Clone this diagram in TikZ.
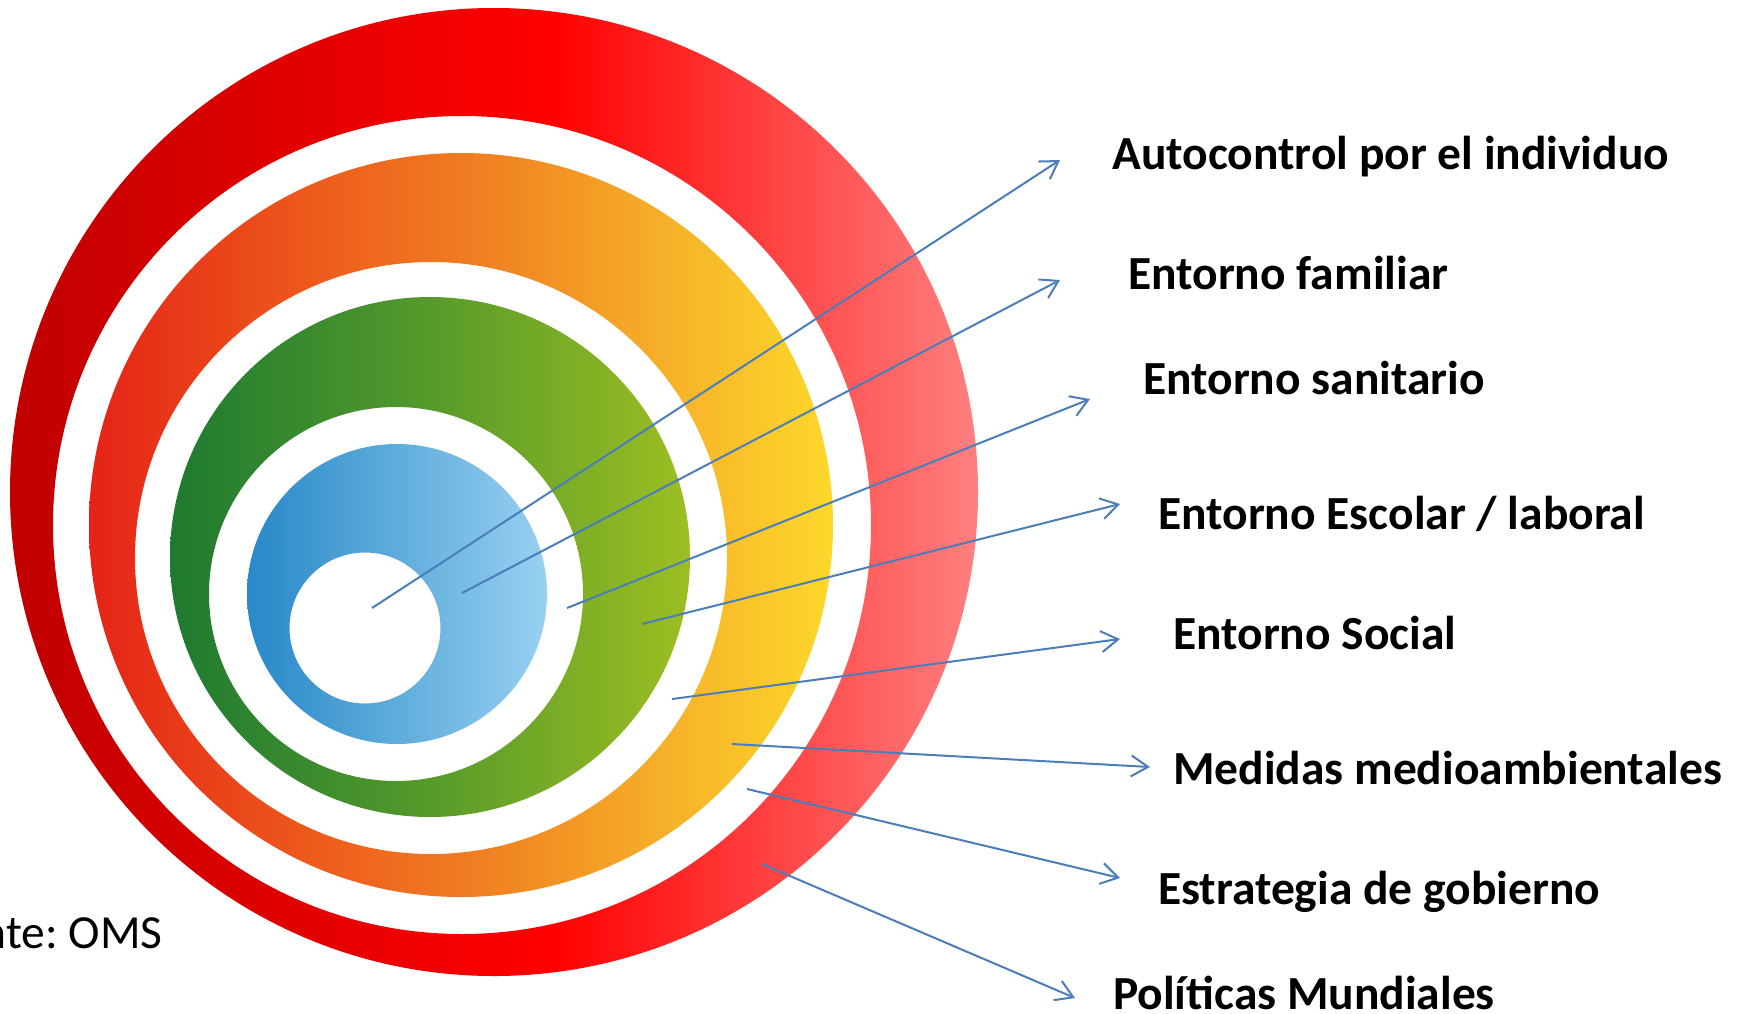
\documentclass[tikz,border=0pt]{standalone}
\usepackage{fontspec}
\setmainfont{Carlito}
\usetikzlibrary{arrows.meta}
\definecolor{rA}{RGB}{192,0,0}
\definecolor{rB}{RGB}{255,0,0}
\definecolor{rC}{RGB}{255,128,128}
\definecolor{oA}{RGB}{229,35,23}
\definecolor{oB}{RGB}{237,87,28}
\definecolor{oC}{RGB}{240,130,34}
\definecolor{oD}{RGB}{247,181,42}
\definecolor{oE}{RGB}{253,216,42}
\definecolor{gA}{RGB}{30,122,48}
\definecolor{gB}{RGB}{78,150,44}
\definecolor{gC}{RGB}{157,190,34}
\definecolor{bA}{RGB}{40,136,200}
\definecolor{bB}{RGB}{95,172,220}
\definecolor{bC}{RGB}{152,208,241}
\definecolor{arrowblue}{RGB}{74,126,187}
\pgfdeclarehorizontalshading{redring}{100bp}{color(0bp)=(rA); color(25bp)=(rA); color(53bp)=(rB); color(75bp)=(rC); color(100bp)=(rC)}
\pgfdeclarehorizontalshading{orangering}{100bp}{color(0bp)=(oA); color(25bp)=(oA); color(39bp)=(oB); color(52bp)=(oC); color(65bp)=(oD); color(75bp)=(oE); color(100bp)=(oE)}
\pgfdeclarehorizontalshading{greenring}{100bp}{color(0bp)=(gA); color(25bp)=(gA); color(47bp)=(gB); color(75bp)=(gC); color(100bp)=(gC)}
\pgfdeclarehorizontalshading{bluering}{100bp}{color(0bp)=(bA); color(25bp)=(bA); color(50bp)=(bB); color(75bp)=(bC); color(100bp)=(bC)}
\begin{document}
\begin{tikzpicture}[x=1pt,y=-1pt,
  ring/.style={even odd rule},
  pointer/.style={draw=arrowblue, line width=2pt, -{Straight Barb[length=17pt,width=21pt]}},
  label/.style={anchor=base west, inner sep=0pt, font=\fontsize{47.5}{57}\selectfont\bfseries},
  source/.style={anchor=base east, inner sep=0pt, font=\fontsize{47.5}{57}\selectfont}]
\useasboundingbox (0,0) rectangle (1742,1013);
\clip (0,0) rectangle (1742,1013);
% rings
\shade[ring, shading=redring] (494,492) circle (484pt) (462,525) circle (409pt);
\shade[ring, shading=orangering] (461,525) circle (372pt) (431,558) circle (296pt);
\shade[ring, shading=greenring] (430,557) circle (260pt) (396,594) circle (187pt);
\shade[ring, shading=bluering] (397,594) circle (150pt) (365,628) circle (75.5pt);
% labels
\node[label] (l1) at (1112,169) {Autocontrol por el individuo};
\node[label] (l2) at (1128,289) {Entorno familiar};
\node[label] (l3) at (1143,394) {Entorno sanitario};
\node[label] (l4) at (1158,529) {Entorno Escolar / laboral};
\node[label] (l5) at (1173,649) {Entorno Social};
\node[label] (l6) at (1173,784) {Medidas medioambientales};
\node[label] (l7) at (1158,904) {Estrategia de gobierno};
\node[label] (l8) at (1113,1009) {Políticas Mundiales};
\node[source] (src) at (163,948) {nte:\ OMS};
% pointer coordinates
\coordinate (s1) at (372,608); \coordinate (e1) at (1060,160);
\coordinate (s2) at (462,593); \coordinate (e2) at (1060,280);
\coordinate (s3) at (567,608); \coordinate (e3) at (1090,399);
\coordinate (s4) at (642,624); \coordinate (e4) at (1120,504);
\coordinate (s5) at (672,699); \coordinate (e5) at (1120,639);
\coordinate (s6) at (732,744); \coordinate (e6) at (1150,767);
\coordinate (s7) at (747,789); \coordinate (e7) at (1120,878);
\coordinate (s8) at (762,864); \coordinate (e8) at (1075,998);
\foreach \i in {1,...,8} \draw[pointer] (s\i) -- (e\i);
\end{tikzpicture}
\end{document}
